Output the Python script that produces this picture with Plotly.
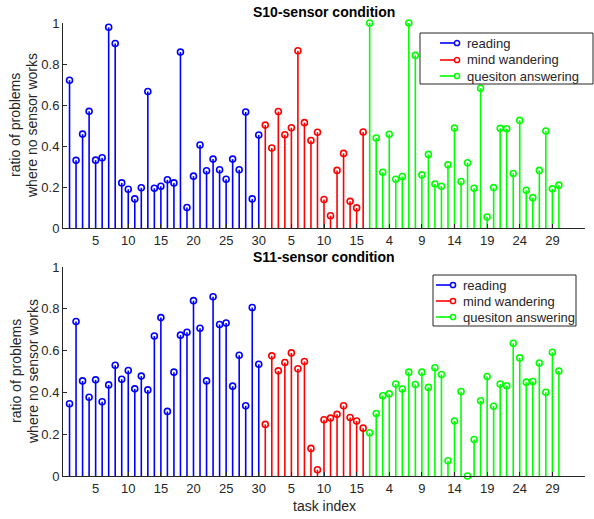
import plotly.graph_objects as go

# S10 sensor condition
reading_s10 = [0.721, 0.33, 0.458, 0.569, 0.331, 0.343, 0.979, 0.90, 0.22, 0.189,
               0.142, 0.196, 0.666, 0.194, 0.204, 0.235, 0.22, 0.858, 0.10, 0.253,
               0.405, 0.279, 0.336, 0.284, 0.238, 0.336, 0.284, 0.566, 0.142, 0.454]
mind_s10 = [0.502, 0.39, 0.568, 0.455, 0.489, 0.865, 0.514, 0.427, 0.467, 0.139,
            0.06, 0.281, 0.364, 0.13, 0.098, 0.468]
qa_s10 = [1.0, 0.439, 0.272, 0.457, 0.238, 0.251, 1.0, 0.842, 0.259, 0.359,
          0.215, 0.204, 0.308, 0.488, 0.227, 0.318, 0.194, 0.682, 0.054, 0.197,
          0.486, 0.484, 0.266, 0.525, 0.184, 0.148, 0.281, 0.473, 0.191, 0.209]

# S11 sensor condition
reading_s11 = [0.346, 0.739, 0.455, 0.377, 0.46, 0.355, 0.436, 0.53, 0.463, 0.505,
               0.417, 0.478, 0.412, 0.67, 0.758, 0.309, 0.497, 0.674, 0.688, 0.839,
               0.707, 0.455, 0.858, 0.725, 0.732, 0.43, 0.578, 0.336, 0.806, 0.535]
mind_s11 = [0.247, 0.575, 0.503, 0.543, 0.589, 0.513, 0.548, 0.132, 0.03, 0.269,
            0.277, 0.295, 0.336, 0.28, 0.263, 0.229]
qa_s11 = [0.207, 0.299, 0.384, 0.393, 0.44, 0.416, 0.497, 0.438, 0.497, 0.424,
          0.518, 0.486, 0.073, 0.263, 0.404, 0.0, 0.175, 0.36, 0.476, 0.334,
          0.44, 0.432, 0.635, 0.565, 0.449, 0.452, 0.541, 0.401, 0.592, 0.502]

group_names = ["reading", "mind wandering", "quesiton answering"]
group_colors = ["#0000FF", "#FF0000", "#00FF00"]
tick_positions = [5, 10, 15, 20, 25, 30, 35, 40, 45, 50, 55, 60, 65, 70, 75]
tick_labels = ["5", "10", "15", "20", "25", "30", "5", "10", "15", "4", "9", "14", "19", "24", "29"]
y_ticks = [0, 0.2, 0.4, 0.6, 0.8, 1]
y_tick_labels = ["0", "0.2", "0.4", "0.6", "0.8", "1"]

FONT = "Liberation Sans, Arial, sans-serif"
AX = "#262626"
W, H = 594, 519
ML, MR, MT, MB = 63, 9, 23, 43
PW, PH = W - ML - MR, H - MT - MB


def px(xp):
    return (xp - ML) / PW


def py(yp):
    return 1 - (yp - MT) / PH


fig = go.Figure()


def add_panel(groups, xa, ya):
    start = 1
    for vals, name, col in zip(groups, group_names, group_colors):
        xs = list(range(start, start + len(vals)))
        start += len(vals)
        lx, ly = [], []
        for x, v in zip(xs, vals):
            lx += [x, x, None]
            ly += [0, v, None]
        fig.add_trace(go.Scatter(x=lx, y=ly, mode="lines", line=dict(color=col, width=1.6),
                                 xaxis=xa, yaxis=ya, showlegend=False, hoverinfo="skip",
                                 cliponaxis=False))
        fig.add_trace(go.Scatter(x=xs, y=vals, mode="markers", name=name,
                                 marker=dict(symbol="circle-open", size=6, color=col,
                                             line=dict(width=1.6, color=col)),
                                 xaxis=xa, yaxis=ya, showlegend=False, cliponaxis=False))


add_panel([reading_s10, mind_s10, qa_s10], "x", "y")
add_panel([reading_s11, mind_s11, qa_s11], "x2", "y2")

shapes = []
annotations = []


def add_legend(box, item_ys, line_x0, line_x1, text_x):
    bx0, by0, bx1, by1 = box
    shapes.append(dict(type="rect", xref="paper", yref="paper", x0=px(bx0), x1=px(bx1),
                       y0=py(by1), y1=py(by0), line=dict(color=AX, width=1), fillcolor="white",
                       layer="above"))
    for name, col, yy in zip(group_names, group_colors, item_ys):
        shapes.append(dict(type="line", xref="paper", yref="paper", x0=px(line_x0), x1=px(line_x1),
                           y0=py(yy), y1=py(yy), line=dict(color=col, width=1.6), layer="above"))
        shapes.append(dict(type="circle", xref="paper", yref="paper", xsizemode="pixel",
                           ysizemode="pixel", xanchor=px(line_x1), yanchor=py(yy),
                           x0=-2.6, x1=2.6, y0=-2.6, y1=2.6, line=dict(color=col, width=1.5),
                           fillcolor="white", layer="above"))
        annotations.append(dict(text=name, x=px(text_x), y=py(yy), xref="paper", yref="paper",
                                showarrow=False, xanchor="left", yanchor="middle",
                                font=dict(size=13, color=AX, family=FONT)))


add_legend((420, 33, 593, 84), [43, 60, 76], 440, 457, 465)
add_legend((433, 275, 576, 326), [285, 301, 317], 436, 453, 461)

for title, ty in [("<b>S10-sensor condition</b>", 12), ("<b>S11-sensor condition</b>", 257)]:
    annotations.append(dict(text=title, x=0.5, y=py(ty), xref="paper", yref="paper",
                            showarrow=False, xanchor="center", yanchor="middle",
                            font=dict(size=14, color="black", family=FONT)))

for cy in [125.5, 371.5]:
    for line_text, lx in [("ratio of problems", 15.5), ("where no sensor works", 32.5)]:
        annotations.append(dict(text=line_text, x=px(lx), y=py(cy), xref="paper", yref="paper",
                                showarrow=False, textangle=-90, xanchor="center",
                                yanchor="middle", font=dict(size=14, color=AX, family=FONT)))

annotations.append(dict(text="task index", x=0.5, y=py(506), xref="paper", yref="paper",
                        showarrow=False, xanchor="center", yanchor="middle",
                        font=dict(size=14, color=AX, family=FONT)))

axis_common = dict(showline=True, linecolor=AX, linewidth=1, showgrid=False, zeroline=False,
                   ticks="inside", ticklen=4, tickcolor=AX,
                   tickfont=dict(size=13, color=AX, family=FONT))
fig.update_layout(
    width=W, height=H,
    margin=dict(l=ML, r=MR, t=MT, b=MB),
    paper_bgcolor="white", plot_bgcolor="white",
    font=dict(family=FONT, size=13, color=AX),
    showlegend=False,
    xaxis=dict(domain=[0, 1], anchor="y", range=[0, 80], tickvals=tick_positions,
               ticktext=tick_labels, **axis_common),
    yaxis=dict(domain=[py(228), 1], anchor="x", range=[0, 1], tickvals=y_ticks,
               ticktext=y_tick_labels, **axis_common),
    xaxis2=dict(domain=[0, 1], anchor="y2", range=[0, 80], tickvals=tick_positions,
                ticktext=tick_labels, **axis_common),
    yaxis2=dict(domain=[0, py(267)], anchor="x2", range=[0, 1], tickvals=y_ticks,
                ticktext=y_tick_labels, **axis_common),
    shapes=shapes,
    annotations=annotations,
)

fig.write_html("out.html")
